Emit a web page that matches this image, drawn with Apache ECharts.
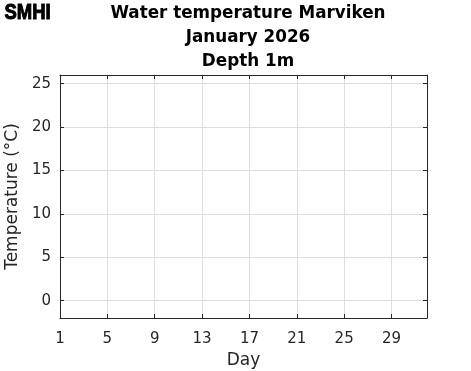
<!DOCTYPE html>
<html>
<head>
<meta charset="utf-8">
<script src="https://cdn.jsdelivr.net/npm/echarts@6/dist/echarts.min.js"></script>
<style>html,body{margin:0;padding:0;background:#fff}#c{width:471px;height:371px}</style>
</head>
<body>
<div id="c"></div>
<script>
// Data (no observations this month)
const days = [];
const temperatures = [];
const xTickLabels = [1, 5, 9, 13, 17, 21, 25, 29];
const yTickLabels = [0, 5, 10, 15, 20, 25];
const titleLines = ['Water temperature Marviken', 'January 2026', 'Depth 1m'];

const seriesData = days.map((d, i) => [d, temperatures[i]]);

const FONT = 'DejaVu Sans';
const axisColor = '#262626';
const gridColor = '#dedede';

function makeAxis(min, max, ticks, extra) {
  return Object.assign({
    type: 'value', min: min, max: max,
    axisLine: { show: true, onZero: false, lineStyle: { color: axisColor, width: 1 } },
    axisTick: { show: true, inside: true, length: 4, customValues: ticks, lineStyle: { color: axisColor } },
    axisLabel: { show: false, customValues: ticks },
    splitLine: { show: false }
  }, extra);
}

const chart = echarts.init(document.getElementById('c'), null, { renderer: 'canvas' });
chart.setOption({
  animation: false,
  backgroundColor: '#fff',
  title: {
    text: titleLines.join('\n'),
    left: 243, top: -3, textAlign: 'center',
    textStyle: { fontFamily: FONT, fontWeight: 'bold', fontSize: 16.8, color: '#000', lineHeight: 24 }
  },
  graphic: [{
    type: 'text', left: 4, top: 1, scaleX: 0.84, originX: 0,
    style: { text: 'SMHI', fontFamily: 'Liberation Sans', fontWeight: 'bold', fontSize: 22,
      fill: '#000', stroke: '#000', lineWidth: 1 }
  }],
  grid: { left: 60, top: 75, right: 44, bottom: 53, containLabel: false, outerBoundsMode: 'none' },
  xAxis: [
    makeAxis(1, 32, xTickLabels, {
      position: 'bottom',
      name: 'Day', nameLocation: 'middle', nameGap: 33,
      nameTextStyle: { fontFamily: FONT, fontSize: 17, color: axisColor },
      axisLabel: { show: true, customValues: xTickLabels, margin: 14, fontFamily: FONT, fontSize: 15, color: axisColor },
      splitLine: { show: true, lineStyle: { color: gridColor, width: 1 } }
    }),
    makeAxis(1, 32, xTickLabels, { position: 'top' })
  ],
  yAxis: [
    makeAxis(-2, 26, yTickLabels, {
      position: 'left',
      name: 'Temperature (°C)', nameLocation: 'middle', nameGap: 37,
      nameTextStyle: { fontFamily: FONT, fontSize: 17, color: axisColor },
      axisLabel: { show: true, customValues: yTickLabels, margin: 9, fontFamily: FONT, fontSize: 15, color: axisColor },
      splitLine: { show: true, lineStyle: { color: gridColor, width: 1 } }
    }),
    makeAxis(-2, 26, yTickLabels, { position: 'right' })
  ],
  series: [{
    type: 'line', data: seriesData, xAxisIndex: 0, yAxisIndex: 0,
    showSymbol: false, lineStyle: { color: '#0072bd', width: 1.5 }
  }]
});
</script>
</body>
</html>
